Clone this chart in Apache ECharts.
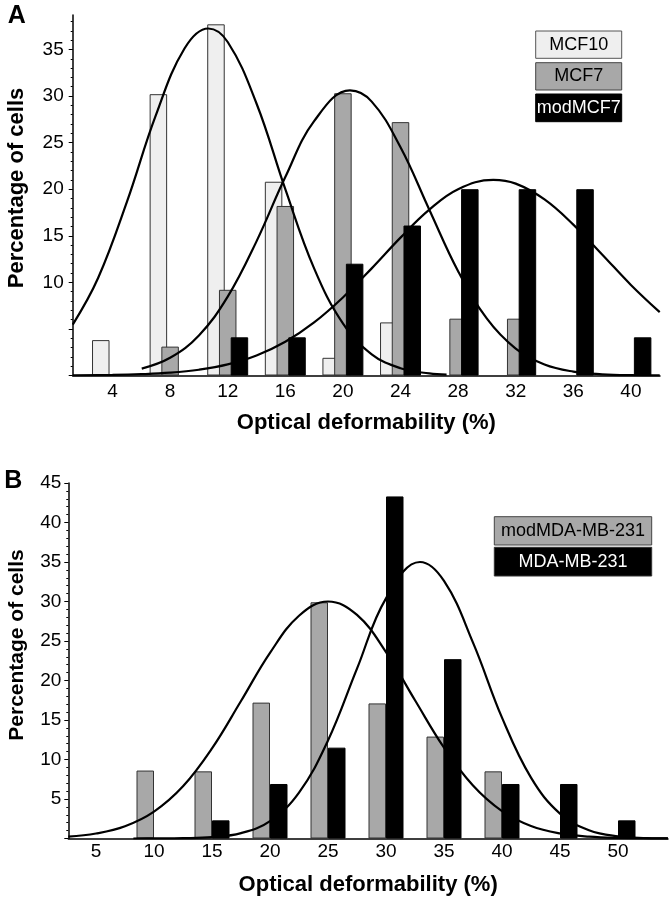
<!DOCTYPE html>
<html>
<head>
<meta charset="utf-8">
<script src="https://cdn.jsdelivr.net/npm/echarts@6/dist/echarts.min.js"></script>
<style>
html,body{margin:0;padding:0;background:#fff;}
#chart{width:670px;height:899px;}
</style>
</head>
<body>
<div id="chart"></div>
<script>
// ---------- Panel A data ----------
const binsA = [4, 8, 12, 16, 20, 24, 28, 32, 36, 40];
const mcf10 = [3.8, 30.2, 37.7, 20.8, 1.9, 5.7, null, null, null, null];
const mcf7 = [null, 3.1, 9.2, 18.2, 30.3, 27.2, 6.1, 6.1, null, null];
const modMcf7 = [null, null, 4.1, 4.1, 12.0, 16.1, 20.0, 20.0, 20.0, 4.1];
const ticksAx = [4, 8, 12, 16, 20, 24, 28, 32, 36, 40];
const ticksAyLabels = [10, 15, 20, 25, 30, 35];

// fitted curves (x, y)
const fitMcf10X = [1.24, 3, 5, 7, 9, 10.65, 12, 14, 16, 18, 20, 22, 24, 26, 27.2];
const fitMcf10Y = [5.46, 10.46, 18.64, 27.9, 35.1, 37.25, 35.8, 29.2, 20.0, 11.5, 5.59, 2.28, 0.78, 0.22, 0.10];
const fitMcf7X = [6.03, 8, 10, 12, 14, 16, 18, 20.49, 22, 24, 26, 28, 30, 32, 34, 36, 38, 40, 42];
const fitMcf7Y = [0.74, 1.90, 4.30, 8.46, 14.4, 21.3, 27.3, 30.6, 29.4, 24.5, 17.8, 11.2, 6.1, 2.89, 1.18, 0.42, 0.13, 0.03, 0.01];
const fitModX = [1.24, 4, 6, 8, 10, 12, 14, 16, 18, 20, 22, 24, 26, 28, 30.44, 32, 34, 36, 38, 40, 42];
const fitModY = [0.02, 0.06, 0.14, 0.30, 0.62, 1.19, 2.15, 3.62, 5.70, 8.38, 11.5, 14.8, 17.8, 20.0, 21.0, 20.6, 18.9, 16.2, 13.0, 9.72, 6.80];

// ---------- Panel B data ----------
const binsB = [10, 15, 20, 25, 30, 35, 40, 45, 50];
const modMDA = [8.6, 8.5, 17.2, 29.9, 17.1, 12.9, 8.5, null, null];
const mda = [null, 2.3, 6.9, 11.5, 43.3, 22.7, 6.9, 6.9, 2.3];
const ticksBx = [5, 10, 15, 20, 25, 30, 35, 40, 45, 50];
const ticksByLabels = [5, 10, 15, 20, 25, 30, 35, 40, 45];

const fitModMdaX = [2.61, 5, 7.5, 10, 12.5, 15, 17.5, 20, 22.5, 25, 27.5, 30, 32.5, 35, 37.5, 40, 42.5, 45, 47.5, 50, 54.3];
const fitModMdaY = [0.24, 0.63, 1.55, 3.40, 6.60, 11.4, 17.4, 23.5, 28.2, 30.0, 28.3, 23.6, 17.5, 11.5, 6.70, 3.46, 1.58, 0.64, 0.23, 0.08, 0.01];
const fitMdaX = [8.22, 10, 12.5, 15, 17.5, 20, 22.5, 25, 27.5, 30, 32.93, 35, 37.5, 40, 42.5, 45, 47.5, 50, 52.5, 54.3];
const fitMdaY = [0, 0.01, 0.04, 0.17, 0.68, 2.21, 5.80, 12.4, 21.5, 30.4, 35.0, 32.6, 24.8, 15.3, 7.70, 3.15, 1.05, 0.28, 0.06, 0.01];

// ---------- helpers ----------
function pairs(xs, ys) {
  const out = [];
  for (let i = 0; i < xs.length; i++) if (ys[i] != null) out.push([xs[i], ys[i]]);
  return out;
}
function range(a, b) { const r = []; for (let i = a; i <= b; i++) r.push(i); return r; }

const FONT = 'Liberation Sans, Arial, Helvetica, sans-serif';
const LIGHT = '#efefef', GRAY = '#a8a8a8', BLACK = '#000';

const chart = echarts.init(document.getElementById('chart'), null, { renderer: 'canvas' });

function xAxisCfg(gridIndex, min, max, labels, fontSize, margin, nameGap) {
  return {
    type: 'value', gridIndex, min, max,
    axisLine: { show: true, onZero: false, lineStyle: { color: '#000', width: 1.5 } },
    axisTick: { show: false },
    splitLine: { show: false },
    axisLabel: { customValues: labels, color: '#000', fontFamily: FONT, fontSize, margin },
    name: 'Optical deformability (%)', nameLocation: 'middle', nameGap,
    nameTextStyle: { fontFamily: FONT, fontWeight: 'bold', fontSize: 22, color: '#000' }
  };
}
function yAxisMain(gridIndex, max, labels, majors, fontSize, margin) {
  return {
    type: 'value', gridIndex, min: 0, max,
    axisLine: { show: true, lineStyle: { color: '#000', width: 1.5 } },
    axisTick: { show: true, customValues: majors, length: 4, lineStyle: { color: '#000', width: 1 } },
    splitLine: { show: false },
    axisLabel: { customValues: labels, color: '#000', fontFamily: FONT, fontSize, margin }
  };
}
function yAxisMinor(gridIndex, max, minors) {
  return {
    type: 'value', gridIndex, min: 0, max, position: 'left',
    axisLine: { show: false },
    axisTick: { show: true, customValues: minors, length: 2, lineStyle: { color: '#000', width: 1 } },
    splitLine: { show: false },
    axisLabel: { show: false }
  };
}

function barSeries(name, xs, ys, color, border, xi, yi, width, gap) {
  return {
    type: 'bar', name, xAxisIndex: xi, yAxisIndex: yi,
    data: pairs(xs, ys), barWidth: width, barGap: gap,
    itemStyle: { color, borderColor: border, borderWidth: 1 },
    animation: false
  };
}
function fitSeries(name, xs, ys, xi, yi) {
  return {
    type: 'line', name, xAxisIndex: xi, yAxisIndex: yi,
    data: pairs(xs, ys), smooth: 0.4, symbol: 'none', z: 5,
    lineStyle: { color: '#000', width: 2.2 }, animation: false
  };
}

const option = {
  animation: false,
  backgroundColor: '#fff',
  grid: [
    { left: 72.7, top: 15, width: 587.3, height: 360.5 },
    { left: 68.3, top: 483, width: 599.7, height: 355.5 }
  ],
  xAxis: [
    xAxisCfg(0, 1.236, 42.02, ticksAx, 19, 7, 36),
    xAxisCfg(1, 2.612, 54.31, ticksBx, 19, 4, 35)
  ],
  yAxis: [
    yAxisMain(0, 38.7, ticksAyLabels, [0, 5, 10, 15, 20, 25, 30, 35], 19, 9),
    yAxisMinor(0, 38.7, range(1, 38)),
    yAxisMain(1, 45, ticksByLabels, [0, 5, 10, 15, 20, 25, 30, 35, 40, 45], 19, 7),
    yAxisMinor(1, 45, range(1, 45))
  ],
  series: [
    barSeries('MCF10', binsA, mcf10, LIGHT, '#333', 0, 0, 17.5, '-33%'),
    barSeries('MCF7', binsA, mcf7, GRAY, '#333', 0, 0, 17.5, '-33%'),
    barSeries('modMCF7', binsA, modMcf7, BLACK, '#000', 0, 0, 17.5, '-33%'),
    fitSeries('MCF10 fit', fitMcf10X, fitMcf10Y, 0, 0),
    fitSeries('MCF7 fit', fitMcf7X, fitMcf7Y, 0, 0),
    fitSeries('modMCF7 fit', fitModX, fitModY, 0, 0),
    barSeries('modMDA-MB-231', binsB, modMDA, GRAY, '#333', 1, 2, 17.5, '0%'),
    barSeries('MDA-MB-231', binsB, mda, BLACK, '#000', 1, 2, 17.5, '0%'),
    fitSeries('modMDA-MB-231 fit', fitModMdaX, fitModMdaY, 1, 2),
    fitSeries('MDA-MB-231 fit', fitMdaX, fitMdaY, 1, 2)
  ],
  graphic: [
    { type: 'text', x: 16.7, y: 16, style: { text: 'A', font: 'bold 25px ' + FONT, fill: '#000', textAlign: 'center', textVerticalAlign: 'middle' } },
    { type: 'text', x: 13.3, y: 481, style: { text: 'B', font: 'bold 25px ' + FONT, fill: '#000', textAlign: 'center', textVerticalAlign: 'middle' } },
    { type: 'text', x: 17, y: 188, rotation: Math.PI / 2, style: { text: 'Percentage of cells', font: 'bold 22px ' + FONT, fill: '#000', textAlign: 'center', textVerticalAlign: 'middle' } },
    { type: 'text', x: 17, y: 645, rotation: Math.PI / 2, style: { text: 'Percentage of cells', font: 'bold 21px ' + FONT, fill: '#000', textAlign: 'center', textVerticalAlign: 'middle' } },
    // legend A
    { type: 'rect', shape: { x: 535.7, y: 31, width: 86, height: 27.3 }, style: { fill: LIGHT, stroke: '#555', lineWidth: 1 } },
    { type: 'text', x: 578.7, y: 44.8, style: { text: 'MCF10', font: '18px ' + FONT, fill: '#000', textAlign: 'center', textVerticalAlign: 'middle' } },
    { type: 'rect', shape: { x: 535.7, y: 62.7, width: 86, height: 27.3 }, style: { fill: GRAY, stroke: '#444', lineWidth: 1 } },
    { type: 'text', x: 578.7, y: 76.5, style: { text: 'MCF7', font: '18px ' + FONT, fill: '#000', textAlign: 'center', textVerticalAlign: 'middle' } },
    { type: 'rect', shape: { x: 535.7, y: 94, width: 86, height: 27.7 }, style: { fill: BLACK, stroke: '#000', lineWidth: 1 } },
    { type: 'text', x: 578.7, y: 108, style: { text: 'modMCF7', font: '18px ' + FONT, fill: '#fff', textAlign: 'center', textVerticalAlign: 'middle' } },
    // legend B
    { type: 'rect', shape: { x: 494.3, y: 516.7, width: 157.4, height: 28.3 }, style: { fill: GRAY, stroke: '#444', lineWidth: 1 } },
    { type: 'text', x: 573, y: 531, style: { text: 'modMDA-MB-231', font: '18px ' + FONT, fill: '#000', textAlign: 'center', textVerticalAlign: 'middle' } },
    { type: 'rect', shape: { x: 494.3, y: 547.3, width: 157.4, height: 28.7 }, style: { fill: BLACK, stroke: '#333', lineWidth: 1 } },
    { type: 'text', x: 573, y: 561.8, style: { text: 'MDA-MB-231', font: '18px ' + FONT, fill: '#fff', textAlign: 'center', textVerticalAlign: 'middle' } }
  ]
};
chart.setOption(option);
</script>
</body>
</html>
